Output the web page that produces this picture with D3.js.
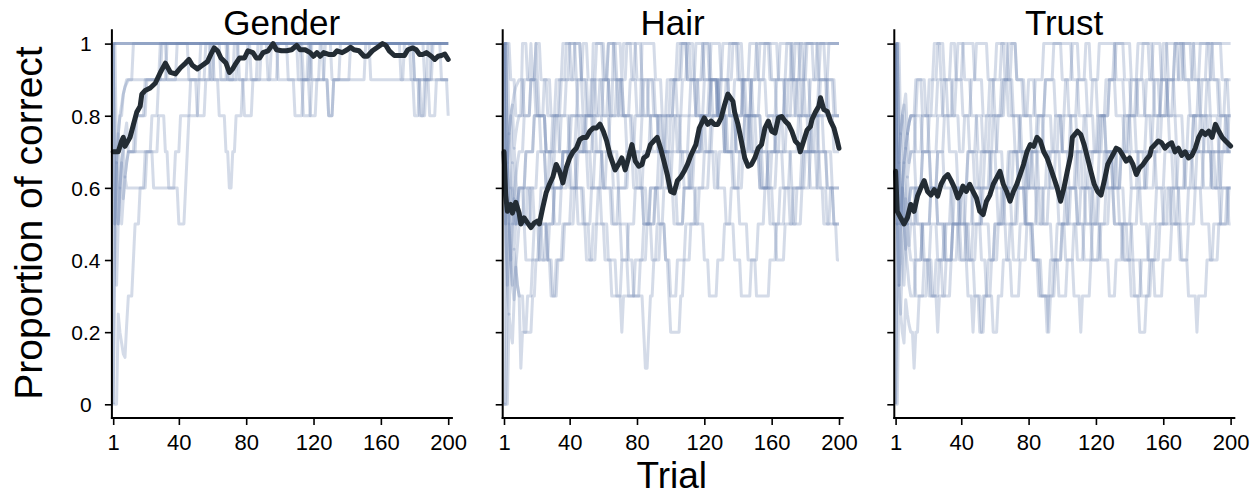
<!DOCTYPE html>
<html><head><meta charset="utf-8">
<script src="https://cdn.jsdelivr.net/npm/d3@7"></script>
<style>body{margin:0;background:#fff} text{font-family:"Liberation Sans",Arial,Helvetica,sans-serif;fill:#000}</style>
</head><body><svg id="c" width="1256" height="496"></svg>
<script>
// ---------- data ----------
const panelTitles = ["Gender", "Hair", "Trust"];
const xTicks = [1, 40, 80, 120, 160, 200];
const yTicks = [0, 0.2, 0.4, 0.6, 0.8, 1];
const yTickLabels = ["0", "0.2", "0.4", "0.6", "0.8", "1"];
const xLabel = "Trial";
const yLabel = "Proportion of correct";

// mean curves: [trial, proportion]
const genderMean = [[1,.70],[4,.70],[6,.73],[7,.74],[8,.715],[11,.74],[13,.775],[15,.81],[17,.826],[18,.86],[20,.87],[23,.877],[26,.89],[29,.92],[32,.946],[35,.92],[38,.916],[41,.933],[44,.946],[46,.956],[48,.94],[51,.93],[54,.94],[57,.95],[59,.97],[61,.988],[63,.98],[65,.96],[68,.946],[70,.92],[72,.93],[74,.946],[76,.96],[79,.96],[81,.98],[84,.975],[86,.96],[88,.96],[90,.975],[93,.98],[96,1.0],[98,.983],[101,.98],[104,.98],[107,.983],[110,.995],[112,.983],[115,.983],[118,.975],[120,.965],[122,.975],[124,.965],[126,.975],[129,.97],[132,.97],[134,.98],[137,.975],[140,.983],[142,.99],[144,.983],[147,.98],[150,.965],[152,.965],[155,.98],[158,.99],[161,1.0],[163,.995],[165,.98],[168,.967],[171,.967],[174,.967],[176,.983],[179,.988],[181,.983],[183,.97],[185,.97],[187,.975],[190,.965],[192,.956],[194,.965],[196,.967],[198,.971],[200,.956]];
const hairMean = [[1,.70],[2,.58],[3,.535],[5,.554],[6,.53],[8,.56],[10,.53],[11,.50],[13,.517],[15,.503],[17,.49],[19,.503],[21,.508],[22,.50],[24,.545],[26,.586],[28,.61],[30,.63],[32,.665],[34,.646],[36,.614],[38,.656],[40,.683],[42,.70],[44,.71],[46,.734],[48,.74],[50,.74],[52,.757],[54,.766],[56,.766],[58,.777],[60,.757],[62,.73],[64,.69],[67,.65],[69,.665],[71,.683],[73,.65],[75,.683],[77,.72],[79,.674],[81,.66],[83,.665],[84,.683],[86,.69],[88,.72],[90,.73],[92,.74],[94,.71],[96,.674],[98,.637],[100,.59],[102,.586],[104,.62],[106,.63],[108,.646],[110,.665],[112,.69],[113,.70],[115,.72],[117,.766],[120,.794],[122,.776],[124,.785],[126,.776],[128,.776],[130,.794],[132,.83],[134,.86],[137,.84],[138,.81],[140,.776],[142,.73],[144,.683],[146,.66],[148,.665],[150,.683],[152,.71],[154,.72],[156,.766],[158,.785],[160,.757],[162,.752],[164,.794],[166,.798],[168,.785],[170,.776],[172,.757],[174,.73],[176,.72],[177,.70],[179,.73],[181,.76],[183,.77],[184,.79],[186,.81],[188,.826],[189,.85],[191,.817],[193,.812],[195,.785],[197,.766],[199,.73],[200,.71]];
const trustMean = [[1,.646],[2,.535],[4,.517],[6,.50],[8,.517],[10,.554],[12,.535],[14,.577],[16,.60],[18,.62],[20,.59],[22,.58],[24,.595],[26,.577],[28,.61],[30,.628],[32,.637],[34,.62],[36,.60],[38,.572],[40,.59],[41,.605],[43,.59],[45,.61],[47,.59],[49,.572],[51,.535],[53,.526],[55,.563],[57,.58],[59,.61],[61,.628],[63,.646],[65,.61],[67,.59],[69,.563],[71,.59],[73,.61],[75,.637],[77,.665],[79,.70],[81,.72],[83,.715],[85,.74],[87,.73],[89,.70],[91,.683],[93,.656],[95,.628],[97,.60],[99,.563],[101,.60],[103,.646],[105,.69],[106,.74],[109,.757],[111,.748],[113,.72],[115,.683],[117,.646],[119,.61],[121,.59],[123,.58],[125,.62],[127,.665],[129,.683],[131,.70],[132,.71],[134,.705],[136,.69],[138,.674],[140,.683],[142,.665],[144,.637],[146,.656],[148,.665],[150,.679],[152,.69],[153,.71],[155,.72],[157,.73],[159,.725],[161,.71],[163,.72],[165,.725],[167,.70],[169,.71],[171,.69],[173,.70],[175,.683],[177,.69],[179,.71],[181,.74],[183,.757],[185,.748],[187,.757],[189,.74],[191,.776],[193,.757],[195,.74],[197,.73],[200,.716]];

// individual participants: run-length steps "tenths*count"
const genderSubjects = [
"10*200",
"10*45 9*5 8*5 9*5 10*50 9*3 8*5 9*5 10*77",
"0*1 5*1 6.7*1 7.5*1 8*2 8.6*1 8.8*1 9*50 10*6 9*30 10*4 9*20 10*12 9*20 10*3 9*20 10*6 9*21",
"10*60 9*3 8*4 7*2 6*2 7*2 8*4 9*3 10*45 9*3 8*3 9*4 10*50 9*3 8*4 9*8",
"0*3 2.5*1 2*1 1.7*1 1.4*1 1.3*1 2.2*1 3*3 4*1 5*3 6*3 7*4 8*4 9*5 10*60 9*6 10*102",
"10*1 5*1 6.7*1 5*1 6*1 5*1 5.7*1 6.3*1 6*12 7*4 6*15 5*4 6*1 7*1 8*6 9*4 10*20 9*3 8*5 9*3 10*114",
"10*1 5*1 6.7*1 7.5*1 6*1 6.7*1 7.1*1 7.5*1 7.8*1 7*18 8*4 7*2 6*4 7*3 8*6 9*6 10*30 9*6 10*30 9*10 8*3 9*10 10*59",
"10*1 5*1 3.3*1 5*1 6*1 6.7*1 7.1*1 6.3*1 6.7*1 7*5 8*6 9*8 10*30 9*10 10*45 9*4 8*4 9*5 10*53 9*3 8*3 9*4 10*12",
"10*1 10*1 6.7*1 7.5*1 8*1 8.3*1 8.6*1 8.8*1 8.9*1 9*3 10*20 9*6 10*30 9*4 10*40 9*5 10*60 9*6 8*3 9*4 10*5 9*4 8*1",
"0*1 5*1 6.7*1 5*1 6*1 6.7*1 5.7*1 6.3*1 6.7*1 7*4 8*6 9*10 10*40 9*5 10*30 9*4 8*5 9*3 10*55 9*8 8*3 9*5 10*13"
];
const hairSubjects = [
"10*4 9*3 8*4 10*3 9*5 8*6 7*4 8*4 9*4 10*9 9*4 8*3 10*7 9*3 8*2 10*5 9*1 10*5 9*3 8*3 10*8 9*4 8*5 9*4 10*6 9*5 10*5 9*5 8*3 9*3 10*10 9*4 8*3 9*3 10*9 9*5 10*7 9*4 8*3 9*2 10*20",
"10*1 5*1 6.7*1 7.5*1 6*2 5*3 6*4 7*5 8*6 9*4 8*5 7*6 6*4 7*5 8*6 9*5 8*4 7*5 6*6 7*4 8*5 9*6 8*5 7*4 6*5 5*4 6*4 7*6 8*5 9*6 8*5 7*5 8*4 9*6 8*5 7*4 6*5 7*6 8*6 9*5 8*4 7*4 8*5 9*5 8*3",
"0*3 2.5*1 2*1 1.7*1 2.9*1 3.8*1 3.3*1 3*3 2*2 3*3 4*4 5*5 4*2 3*3 4*4 5*5 6*4 5*5 4*4 5*3 6*5 7*4 6*4 5*5 4*3 3*4 4*4 5*5 6*5 7*6 8*4 7*5 6*4 5*5 4*3 3*5 4*4 5*4 6*5 7*5 8*5 7*4 6*5 7*5 8*5 9*4 8*4 7*5 6*5 7*5 6*4 5*4",
"10*1 5*1 3.3*1 5*1 4*1 3.3*1 4.3*1 3.8*1 3.3*1 3*1 1*1 2*6 3*2 4*3 5*4 4*3 3*3 4*4 5*6 6*5 5*4 4*4 5*5 4*4 3*6 2*1 3*8 3*4 2*1 1*2 2*1 3*2 4*4 5*3 4*2 3*1 2*6 3*2 4*4 5*5 6*6 7*5 6*5 5*5 4*4 3*6 4*3 3*8 4*4 5*5 6*5 5*5 6*5 7*6 6*4 5*6 4*2",
"10*1 10*1 6.7*1 7.5*1 8*1 6.7*1 7.1*1 6.3*1 5.6*1 5*4 4*5 5*4 6*5 7*4 8*6 9*5 10*4 9*3 8*4 7*5 8*4 9*6 8*5 7*4 6*6 5*4 6*5 7*4 8*5 9*4 10*4 9*5 8*4 7*6 8*5 9*5 10*5 9*4 8*5 7*5 6*4 7*5 8*5 9*6 10*5 9*4 8*6 9*5 10*7",
"10*1 5*1 6.7*1 5*1 4*1 5*1 4.3*1 5*1 5.6*1 5*5 6*4 5*5 4*4 5*3 6*5 7*5 6*4 7*5 8*6 7*4 6*5 5*4 6*5 7*6 6*4 5*5 4*3 5*4 6*5 7*5 8*6 9*5 8*4 7*5 6*3 7*4 8*5 9*5 8*4 7*6 6*5 7*5 8*4 7*5 6*6 7*5 8*5 9*5 8*4 7*4",
"0*1 5*1 6.7*1 7.5*1 8*1 8.3*1 7.1*1 7.5*1 7.8*1 8*3 9*4 10*1 9*3 8*5 7*4 6*6 7*5 8*4 9*3 10*3 9*5 8*4 9*3 10*4 9*5 8*6 7*5 8*4 9*4 8*5 7*4 6*6 7*5 8*5 9*4 10*3 9*5 8*5 9*4 10*6 9*5 8*6 7*4 8*5 9*6 10*4 9*5 8*5 9*4 10*5 9*5 8*4",
"10*1 10*1 6.7*1 5*1 6*1 6.7*1 5.7*1 5*1 5.6*1 6*3 5*4 6*4 7*5 6*5 5*4 6*4 7*5 8*4 7*5 6*6 5*4 4*5 3*3 4*4 5*4 6*5 7*4 8*5 7*5 6*4 5*6 6*5 7*5 8*6 9*4 8*4 7*5 6*4 5*5 4*6 5*4 6*5 5*4 6*6 7*5 8*6 7*5 6*4 5*4 6*6",
"10*1 5*1 3.3*1 2.5*1 4*1 5*1 5.7*1 6.3*1 6.7*1 7*3 8*4 9*3 10*1 9*1 8*4 7*5 8*4 9*5 10*4 9*4 8*5 9*3 10*4 9*4 8*6 9*4 10*6 9*4 8*5 7*4 8*5 9*6 8*3 9*3 10*4 9*5 10*5 9*4 8*4 7*5 8*6 9*4 10*5 9*4 10*8 9*4 8*4 9*5 10*8 9*4 10*12",
"10*1 10*1 6.7*1 5*1 4*1 3.3*1 2.9*1 3.8*1 4.4*1 5*3 6*4 5*5 4*4 5*5 6*5 7*4 8*6 7*5 6*4 7*5 6*6 5*5 4*4 3*4 4*5 5*4 6*5 5*4 4*3 3*4 4*5 5*6 6*5 7*4 8*5 9*6 8*4 7*5 8*4 7*5 6*6 5*4 4*5 5*5 6*6 7*5 8*4 7*5 6*4 5*4",
"10*1 10*1 10*1 7.5*1 8*1 8.3*1 8.6*1 8.8*1 8.9*1 9*3 8*4 9*3 10*3 9*4 8*5 9*4 10*5 9*4 8*5 7*4 8*4 9*5 10*5 9*3 8*5 9*3 10*4 9*4 8*6 7*5 8*4 9*5 10*5 9*3 8*5 9*4 10*6 9*5 8*4 7*5 8*4 9*5 10*6 9*4 8*5 9*4 10*5 9*3 10*8 9*6 8*7",
"0*1 0*1 3.3*1 5*1 6*1 5*1 5.7*1 5*1 5.6*1 6*4 7*5 8*4 7*3 6*5 7*4 8*5 7*4 6*5 5*4 6*6 7*5 8*4 9*4 8*5 7*5 6*4 5*5 6*4 7*5 8*4 7*4 6*6 7*5 8*5 9*5 8*4 7*5 6*5 7*4 8*6 9*4 8*5 7*5 6*4 5*4 6*5 7*6 8*5 7*5 6*5"
];
const trustSubjects = [
"10*1 10*1 10*1 7.5*1 8*1 6.7*1 7.1*1 7.5*1 7.8*1 8*4 9*5 8*4 9*3 10*4 9*5 8*4 7*3 8*4 9*3 10*7 9*4 8*5 9*3 10*5 9*5 8*6 9*5 10*11 9*4 8*5 7*4 8*5 9*4 10*10 9*5 8*4 9*4 10*7 9*3 8*4 9*3 10*7 9*3 10*7 9*3 10*40",
"10*1 5*1 6.7*1 5*1 6*1 6.7*1 7.1*1 7.5*1 7.8*1 8*3 7*4 8*4 9*3 10*4 9*4 8*5 9*4 10*7 9*5 8*4 9*4 10*5 9*4 8*5 7*4 6*3 7*4 8*4 9*5 10*11 9*4 8*5 7*6 8*5 9*5 10*10 9*4 8*5 9*4 10*5 9*4 8*3 9*4 10*7 9*5 8*4 9*3 10*6 9*4 8*4",
"0*2 3.3*1 2.5*1 2*1 1.7*1 2.9*1 2.5*1 2.2*1 2*2 1*1 2*2 3*5 4*2 3*4 2*1 3*4 4*4 5*5 4*4 3*3 2*1 3*3 2*3 3*4 4*4 5*5 4*3 3*5 4*4 5*6 6*4 5*5 4*4 3*5 4*4 3*4 2*1 3*5 4*5 5*4 6*5 5*6 4*4 3*5 2*4 3*3 4*5 5*5 6*4 5*4 4*4 3*5 2*1 3*5 4*4 5*5 6*6",
"10*1 5*1 3.3*1 5*1 4*1 3.3*1 4.3*1 5*1 4.4*1 4*3 3*5 4*4 5*4 4*3 3*5 4*4 5*5 6*4 5*5 4*3 3*4 2*3 3*3 4*4 5*4 6*5 5*4 4*4 3*5 2*1 3*3 4*5 5*5 6*4 7*5 6*5 5*4 4*5 3*4 4*4 5*5 6*6 5*4 4*4 3*5 4*5 5*4 6*5 7*4 6*5 5*5 4*5 5*6 6*5",
"10*1 10*1 6.7*1 5*1 6*1 5*1 5.7*1 6.3*1 5.6*1 5*3 6*4 7*5 6*4 5*5 4*4 5*5 6*4 7*5 8*4 7*5 6*4 5*4 6*5 7*4 8*5 9*4 8*5 7*4 6*5 5*4 4*5 5*4 6*5 7*6 8*4 7*5 6*4 7*5 8*4 7*5 6*6 7*4 8*5 7*4 6*5 7*5 8*6 7*5 6*4 7*6 8*3",
"0*1 5*1 3.3*1 5*1 6*1 6.7*1 5.7*1 5*1 5.6*1 6*4 5*4 4*5 3*4 4*4 5*5 6*4 5*4 4*3 5*5 6*5 7*4 6*5 5*5 4*4 5*4 6*6 7*4 8*5 7*5 6*4 5*6 4*4 5*5 6*4 7*5 6*4 5*5 4*5 5*4 6*6 7*5 6*4 5*5 6*4 7*6 8*5 7*4 6*5 7*5 8*4 7*5",
"10*1 10*1 6.7*1 7.5*1 8*1 8.3*1 7.1*1 7.5*1 6.7*1 7*3 6*4 7*4 8*5 9*3 8*4 7*5 6*4 5*3 4*4 5*4 6*5 7*4 8*4 9*4 10*3 9*4 8*5 7*4 6*5 7*5 8*4 7*4 6*5 5*5 6*4 7*5 8*5 9*4 8*5 7*4 6*4 7*5 8*5 9*5 10*3 9*4 8*5 7*6 8*5 9*5 8*5 7*4 8*5",
"10*1 5*1 6.7*1 7.5*1 6*1 5*1 4.3*1 5*1 4.4*1 5*3 4*4 5*5 6*4 5*4 4*5 5*4 6*5 7*4 6*4 5*5 4*3 5*4 6*4 7*6 6*5 5*4 4*5 3*5 4*4 5*5 6*6 7*4 6*5 5*4 6*4 7*5 6*4 5*5 4*4 3*4 4*5 5*4 6*5 7*5 6*4 5*5 6*5 7*5 8*4 7*5 6*5 5*4",
"10*1 5*1 6.7*1 7.5*1 8*1 8.3*1 8.6*1 7.5*1 7.8*1 8*3 9*4 8*4 7*5 8*4 9*4 10*3 9*4 8*4 7*5 6*4 7*5 8*5 9*4 8*4 7*5 6*4 7*4 8*5 9*6 8*4 7*5 8*4 9*5 10*3 9*4 8*5 7*4 6*5 7*4 8*5 9*5 8*4 7*4 8*5 9*5 10*5 9*4 8*5 9*5 10*4 9*4 8*5 7*3",
"0*1 5*1 3.3*1 2.5*1 4*1 5*1 5.7*1 5*1 5.6*1 6*3 5*4 4*4 3*4 4*5 5*4 6*5 5*4 4*5 3*4 2*1 3*3 4*4 5*5 6*4 7*5 6*4 5*5 4*4 3*5 2*1 3*3 4*4 5*4 6*5 5*4 4*5 5*4 6*5 7*6 6*4 5*5 4*5 3*5 4*4 5*5 6*4 5*5 4*5 5*4 6*5 7*5 6*5 5*4 6*4",
"10*1 10*1 6.7*1 5*1 6*1 6.7*1 7.1*1 6.3*1 6.7*1 7*3 8*4 7*5 6*4 7*4 8*5 9*3 10*4 9*4 8*4 7*5 8*4 9*5 10*4 9*3 8*5 7*4 6*5 5*4 6*4 7*5 8*4 9*4 10*4 9*5 8*4 7*5 8*4 9*4 10*5 9*4 8*4 9*3 10*6 9*4 8*5 9*4 10*6 9*5 10*10 9*5 8*4 9*4",
"10*1 5*1 3.3*1 5*1 6*1 5*1 4.3*1 3.8*1 3.3*1 3*3 4*4 5*5 6*4 7*4 6*5 5*4 4*4 5*4 6*5 7*5 8*4 7*4 6*5 5*4 6*5 7*4 6*4 5*5 6*4 7*5 8*5 7*4 6*4 5*4 4*5 5*5 6*4 7*5 8*4 7*5 6*4 7*4 8*5 9*4 8*5 7*5 6*4 7*5 8*5 7*4 6*4 7*6"
];

// ---------- drawing ----------
const svg = d3.select("#c");
const panelLeft = [113.2, 504, 895.6];
const panelWidth = 335;
const yScale = d3.scaleLinear().domain([0, 1]).range([404.3, 43.6]);
const axisY = 418;

function expand(spec) {
  const out = [];
  spec.trim().split(/\s+/).forEach(tok => {
    const [v, n] = tok.split("*");
    for (let i = 0; i < +n; i++) out.push(+v / 10);
  });
  return out.slice(0, 200).map((v, i) => [i + 1, v]);
}

const subjectSets = [genderSubjects, hairSubjects, trustSubjects];
const meanSets = [genderMean, hairMean, trustMean];

panelTitles.forEach((title, p) => {
  const x = d3.scaleLinear().domain([1, 200]).range([panelLeft[p], panelLeft[p] + panelWidth]);
  const g = svg.append("g");
  const line = d3.line().x(d => x(d[0])).y(d => yScale(d[1]));

  const faint = g.append("g");
  subjectSets[p].forEach(s => {
    faint.append("path").attr("d", line(expand(s)))
      .attr("fill", "none").attr("stroke", "#7088b4").attr("stroke-opacity", 0.3)
      .attr("stroke-width", 3).attr("stroke-linejoin", "round");
  });
  g.append("path").attr("d", line(meanSets[p]))
    .attr("fill", "none").attr("stroke", "#232c34").attr("stroke-width", 5)
    .attr("stroke-linejoin", "round").attr("stroke-linecap", "round");

  const axX = panelLeft[p] - 1.3;
  g.append("line").attr("x1", axX).attr("x2", axX)
    .attr("y1", yScale(1.04)).attr("y2", axisY + 1)
    .attr("stroke", "#000").attr("stroke-width", 2);
  g.append("line").attr("x1", axX - 1).attr("x2", x(202.8))
    .attr("y1", axisY).attr("y2", axisY)
    .attr("stroke", "#000").attr("stroke-width", 2);

  const ya = g.append("g").attr("transform", `translate(${axX},0)`)
    .call(d3.axisLeft(yScale).tickValues(yTicks).tickSize(7).tickSizeOuter(0)
      .tickFormat((d, i) => p === 0 ? yTickLabels[i] : ""));
  ya.select(".domain").remove();
  ya.selectAll(".tick line").attr("stroke", "#000").attr("stroke-width", 1.6);
  ya.selectAll(".tick text").attr("x", -26).attr("dy", "0.35em")
    .attr("text-anchor", "middle").style("font-size", "21px")
    .style("font-family", '"Liberation Sans",Arial,sans-serif').attr("fill", "#000");

  const xa = g.append("g").attr("transform", `translate(0,${axisY})`)
    .call(d3.axisBottom(x).tickValues(xTicks).tickSize(7).tickSizeOuter(0));
  xa.select(".domain").remove();
  xa.selectAll(".tick line").attr("stroke", "#000").attr("stroke-width", 1.6);
  xa.selectAll(".tick text").attr("y", 32).attr("dy", 0)
    .style("font-size", "22px").style("font-family", '"Liberation Sans",Arial,sans-serif').attr("fill", "#000");

  g.append("text").attr("x", panelLeft[p] + panelWidth / 2 + 1).attr("y", 35)
    .attr("text-anchor", "middle").style("font-size", "35px").text(title);
});

svg.append("text").attr("transform", "translate(42,223) rotate(-90)")
  .attr("text-anchor", "middle").style("font-size", "39px").text(yLabel);
svg.append("text").attr("x", 671.7).attr("y", 488)
  .attr("text-anchor", "middle").style("font-size", "37px").text(xLabel);
</script></body></html>
